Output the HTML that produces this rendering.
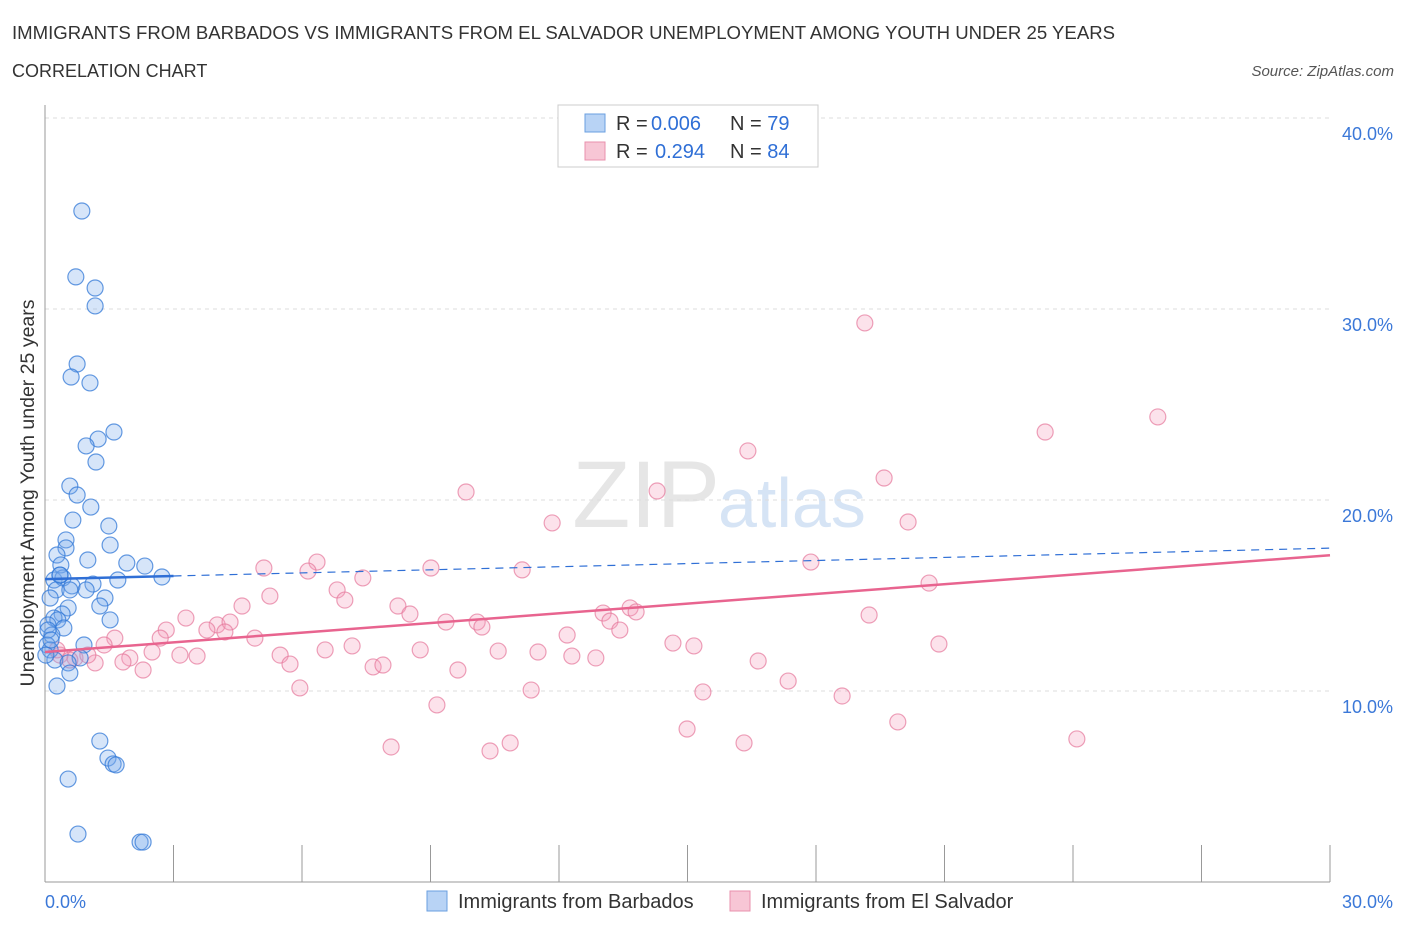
<!DOCTYPE html>
<html><head><meta charset="utf-8"><style>
body{margin:0;background:#fff;font-family:"Liberation Sans",sans-serif;}
svg text{font-family:"Liberation Sans",sans-serif;}
</style></head><body>
<svg id="c" width="1406" height="930" xmlns="http://www.w3.org/2000/svg">
<text x="12" y="39" font-size="18.6" fill="#333">IMMIGRANTS FROM BARBADOS VS IMMIGRANTS FROM EL SALVADOR UNEMPLOYMENT AMONG YOUTH UNDER 25 YEARS</text>
<text x="12" y="77" font-size="18" fill="#333">CORRELATION CHART</text>
<text x="1394" y="76" font-size="15" fill="#555" font-style="italic" text-anchor="end">Source: ZipAtlas.com</text>
<text x="720" y="527" font-size="95" fill="#e6e6e6" text-anchor="end" font-family="Liberation Serif">ZIP</text>
<text x="718" y="527" font-size="70" fill="#d6e4f5">atlas</text>
<text transform="translate(34,493) rotate(-90)" font-size="19.5" fill="#333" text-anchor="middle">Unemployment Among Youth under 25 years</text>
<g id="grid"></g><g id="pts"></g><g id="trend"></g>
<g>
<rect x="558" y="105" width="260" height="62" fill="#fff" stroke="#ccc"/>
<rect x="585" y="114" width="20" height="18" fill="#b8d3f5" stroke="#6a9fe0"/>
<rect x="585" y="142" width="20" height="18" fill="#f7c6d5" stroke="#e890ad"/>
<text x="616" y="130" font-size="20" fill="#333">R = <tspan fill="#2f6fd6" x="651">0.006</tspan><tspan x="730">N = </tspan><tspan fill="#2f6fd6">79</tspan></text>
<text x="616" y="158" font-size="20" fill="#333">R = <tspan fill="#2f6fd6" x="655">0.294</tspan><tspan x="730">N = </tspan><tspan fill="#2f6fd6">84</tspan></text>
</g>
<g>
<rect x="427" y="891" width="20" height="20" fill="#b8d3f5" stroke="#6a9fe0"/>
<text x="458" y="908" font-size="20" fill="#333">Immigrants from Barbados</text>
<rect x="730" y="891" width="20" height="20" fill="#f7c6d5" stroke="#e890ad"/>
<text x="761" y="908" font-size="20" fill="#333">Immigrants from El Salvador</text>
</g>
</svg>
<script>
const xTicks=[0,3,6,9,12,15,18,21,24,27,30];
const yTicks=[10,20,30,40];
const blueX=[0.86,0.72,1.17,1.17,0.75,0.61,1.05,1.61,1.24,0.96,1.19,0.58,0.75,1.07,0.65,1.49,1.52,0.49,0.49,0.28,0.37,1.00,1.91,2.33,2.73,1.70,1.12,0.21,0.42,0.63,0.35,0.26,0.58,0.96,0.12,1.40,1.28,0.54,0.40,0.21,0.30,1.52,0.07,0.44,0.16,0.05,0.91,0.12,0.23,0.82,0.54,0.58,0.28,1.28,1.47,1.59,1.66,0.54,0.77,2.22,2.29,0.07,0.14,0.02,0.35];
const blueY=[35.13,31.68,31.10,30.16,27.12,26.44,26.13,23.56,23.19,22.83,21.99,20.73,20.26,19.63,18.95,18.64,17.64,17.91,17.49,17.12,16.60,16.86,16.70,16.54,15.97,15.81,15.60,15.81,15.92,15.50,16.07,15.29,15.29,15.29,14.87,14.87,14.45,14.35,14.03,13.82,13.72,13.72,13.46,13.30,12.93,12.41,12.41,12.15,11.62,11.73,11.47,10.94,10.26,7.38,6.49,6.18,6.13,5.39,2.51,2.09,2.09,13.19,12.67,11.88,16.07];
const pinkX=[19.14,25.98,23.35,16.41,19.59,9.83,14.29,11.84,20.15,6.35,5.11,6.14,9.01,11.14,17.88,7.42,6.82,20.64,5.25,4.60,7.00,8.24,8.52,13.66,13.80,13.03,3.29,19.24,9.36,10.09,10.20,13.19,13.42,4.02,4.32,3.78,2.83,4.20,2.69,4.90,12.19,1.63,14.66,15.15,20.87,7.17,6.54,8.76,10.58,11.51,12.30,12.86,5.49,5.72,3.15,3.55,2.50,1.98,1.82,1.17,0.70,0.35,0.28,2.29,7.66,7.89,9.64,16.65,17.35,5.95,11.35,15.36,18.61,9.15,19.91,14.99,24.09,16.32,8.08,10.86,10.39,1.38,0.58,1.00];
const pinkY=[29.27,24.35,23.56,22.57,21.15,20.42,20.47,18.80,18.85,16.75,16.44,16.28,16.44,16.34,16.75,15.92,15.29,15.65,14.97,14.45,14.76,14.45,14.03,14.35,14.14,14.08,13.82,13.98,13.61,13.61,13.35,13.66,13.19,13.46,13.61,13.19,13.19,13.09,12.77,12.77,12.93,12.77,12.51,12.36,12.46,12.36,12.15,12.15,12.09,12.04,11.83,11.73,11.88,11.41,11.88,11.83,12.04,11.73,11.52,11.47,11.73,11.88,12.15,11.10,11.26,11.36,11.10,11.57,10.52,10.16,10.05,9.95,9.74,9.27,8.38,8.01,7.49,7.28,7.07,7.28,6.86,12.41,11.62,11.88];
const blueTrend=[15.86,0.054];
const pinkTrend=[12.04,0.169];
const X=v=>45+v/30*1285, Y=v=>882-v*19.1;
const NS='http://www.w3.org/2000/svg';
function mk(t,a,p){const e=document.createElementNS(NS,t);for(const k in a)e.setAttribute(k,a[k]);p.appendChild(e);return e;}
const grid=document.getElementById('grid');
yTicks.forEach(t=>{
 const l=mk('line',{x1:45,x2:1330,y1:Y(t),y2:Y(t),stroke:'#ddd','stroke-dasharray':'4,4'},grid);
 
 
 const tx=mk('text',{x:1393,y:Y(t)+22,'font-size':18,fill:'#3b78d8','text-anchor':'end'},grid);
 tx.textContent=t.toFixed(1)+'%';
 
 
});
mk('line',{x1:45,x2:45,y1:105,y2:882,stroke:'#999'},grid);
mk('line',{x1:45,x2:1330,y1:882,y2:882,stroke:'#999'},grid);
xTicks.forEach(t=>{
 const l=mk('line',{x1:X(t),x2:X(t),y1:845,y2:882,stroke:'#999'},grid);
 
 
});
const xl=mk('text',{x:45,y:908,'font-size':18,fill:'#3b78d8'},grid);xl.textContent='0.0%';


const xr=mk('text',{x:1393,y:908,'font-size':18,fill:'#3b78d8','text-anchor':'end'},grid);xr.textContent='30.0%';


const pts=document.getElementById('pts');
pinkX.forEach((v,i)=>{
 const c=mk('circle',{cx:X(v),cy:Y(pinkY[i]),r:8,fill:'rgba(244,160,188,0.3)',stroke:'rgba(230,120,155,0.7)','stroke-width':1.2},pts);
 
 
});
blueX.forEach((v,i)=>{
 const c=mk('circle',{cx:X(v),cy:Y(blueY[i]),r:8,fill:'rgba(120,170,235,0.3)',stroke:'rgba(50,120,215,0.75)','stroke-width':1.2},pts);
 
 
});
const tr=document.getElementById('trend');
const [pa,pb]=pinkTrend;
const pl=mk('line',{x1:X(0),y1:Y(pa),x2:X(30),y2:Y(pa+pb*30),stroke:'#e8648f','stroke-width':2.5},tr);


const [ba,bb]=blueTrend;
const bl=mk('line',{x1:X(0),y1:Y(ba),x2:X(3),y2:Y(ba+bb*3),stroke:'#2f6fd6','stroke-width':2.5},tr);


const bd=mk('line',{x1:X(3),y1:Y(ba+bb*3),x2:X(30),y2:Y(ba+bb*30),stroke:'#2f6fd6','stroke-width':1.2,'stroke-dasharray':'8,6'},tr);


</script>
</body></html>
